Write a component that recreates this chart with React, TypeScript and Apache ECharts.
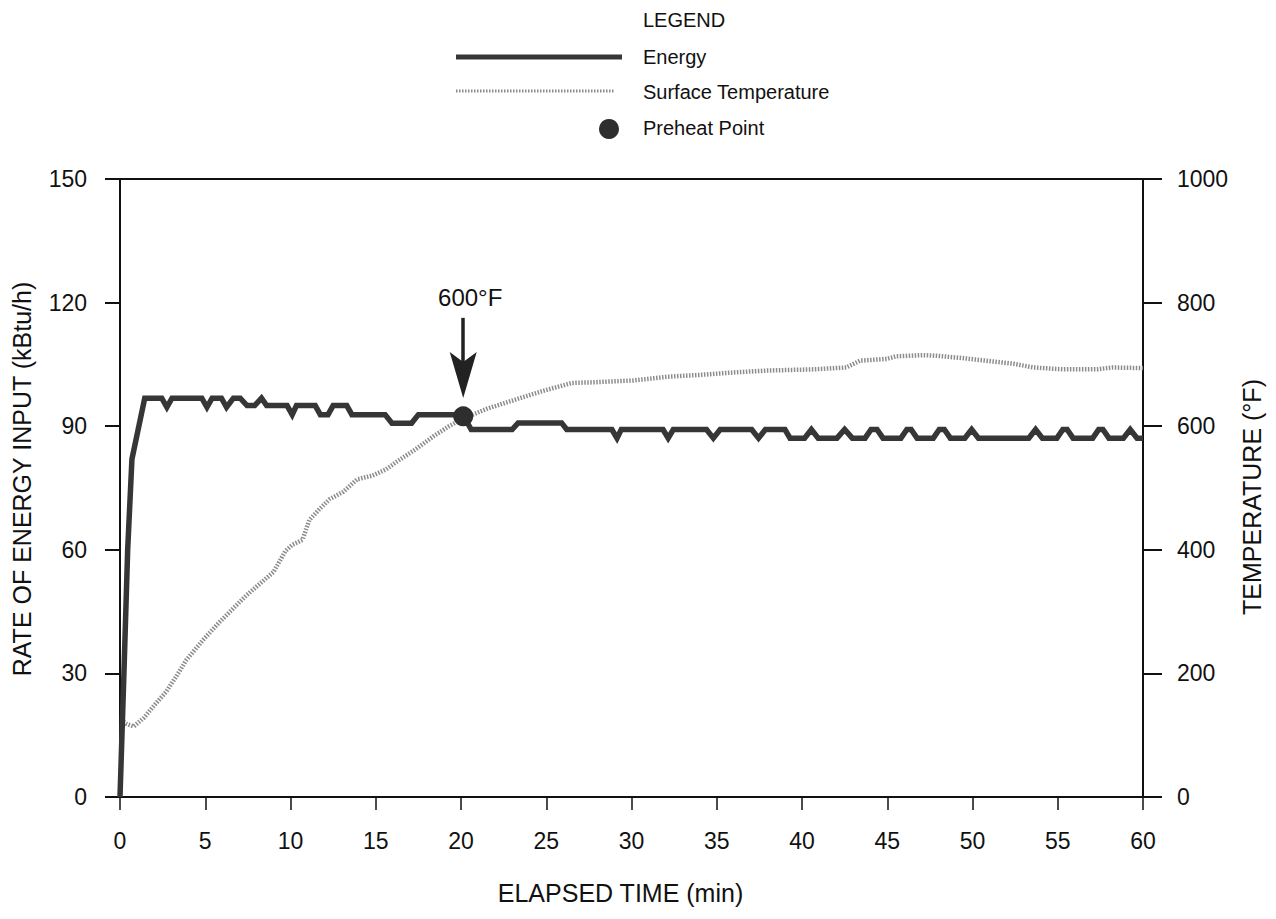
import React, { useEffect, useRef } from "react";
import * as echarts from "echarts";

// Elapsed time (min) and rate of energy input (kBtu/h)
const energyTime = [
  0, 0.23, 0.45, 0.7, 1.45,
  2.45, 2.75, 3.05,
  4.8, 5.1, 5.4,
  5.95, 6.25, 6.65,
  7.05, 7.45, 7.9, 8.3, 8.6,
  9.8, 10.1, 10.35,
  11.45, 11.75, 12.2, 12.5,
  13.3, 13.6,
  15.55, 15.95,
  17.1, 17.5,
  20.1, 20.6,
  23.0, 23.35,
  25.9, 26.2,
  28.85, 29.15, 29.4,
  31.85, 32.15, 32.45,
  34.4, 34.8, 35.2,
  37.05, 37.45, 37.85,
  39.0, 39.3,
  40.15, 40.55, 40.95,
  42.05, 42.5, 42.95,
  43.7, 44.05, 44.4, 44.75,
  45.8, 46.15, 46.4, 46.75,
  47.7, 48.05, 48.35, 48.7,
  49.55, 49.95, 50.35,
  53.3, 53.7, 54.1,
  54.95, 55.3, 55.55, 55.9,
  57.05, 57.4, 57.65, 58.0,
  58.85, 59.25, 59.65, 60,
];
const energyRate = [
  0, 30, 60, 82, 96.8,
  96.8, 94.6, 96.8,
  96.8, 94.6, 96.8,
  96.8, 94.6, 96.8,
  96.8, 95.0, 95.0, 96.8, 95.0,
  95.0, 92.8, 95.0,
  95.0, 92.8, 92.8, 95.0,
  95.0, 92.8,
  92.8, 90.7,
  90.7, 92.8,
  92.8, 89.2,
  89.2, 90.8,
  90.8, 89.2,
  89.2, 87.1, 89.2,
  89.2, 87.1, 89.2,
  89.2, 87.1, 89.2,
  89.2, 87.1, 89.2,
  89.2, 87.1,
  87.1, 89.2, 87.1,
  87.1, 89.2, 87.1,
  87.1, 89.2, 89.2, 87.1,
  87.1, 89.2, 89.2, 87.1,
  87.1, 89.2, 89.2, 87.1,
  87.1, 89.2, 87.1,
  87.1, 89.2, 87.1,
  87.1, 89.2, 89.2, 87.1,
  87.1, 89.2, 89.2, 87.1,
  87.1, 89.2, 87.1, 87.1,
];

// Elapsed time (min) and surface temperature (°F)
const tempTime = [
  0.2, 0.4, 0.8, 1.4, 2.0, 2.7, 3.3, 3.9, 4.9, 5.8, 6.6, 7.4, 8.2, 9.0, 9.7,
  10.1, 10.7, 11.1, 11.7, 12.3, 13.1, 13.9, 14.8, 15.6, 16.2, 17.3, 18.4,
  19.3, 20.1, 21.5, 23.3, 24.8, 26.5, 27.7, 30.1, 32.1, 34.0, 36.0, 37.9,
  40.7, 42.6, 43.4, 45.0, 45.5, 47.1, 47.9, 49.5, 50.8, 52.4, 53.6, 55.3,
  57.3, 58.2, 60,
];
const tempF = [
  122, 118, 114, 128, 148, 170, 195, 222, 255, 282, 304, 326, 345, 364, 398,
  408, 416, 448, 466, 482, 494, 514, 520, 530, 542, 562, 584,
  600, 612, 628, 644, 657, 670, 671, 674, 680, 683, 687, 690,
  692, 695, 706, 709, 713, 715, 714, 710, 706, 701, 695, 692,
  692, 695, 694,
];

// Preheat point (min, kBtu/h) and its annotation arrow
const preheatTime = [20.13];
const preheatRate = [92.4];
const preheatLabel = "600°F";
const arrowFrom = [20.13, 116.3];
const arrowTo = [20.13, 102.4];

const xTicks = { min: 0, max: 60, interval: 5 };
const yLeftTicks = { min: 0, max: 150, interval: 30 };
const yRightTicks = { min: 0, max: 1000, interval: 200 };

const seriesNames = ["Energy", "Surface Temperature", "Preheat Point"];

const FONT = "'Liberation Sans', Arial, Helvetica, sans-serif";
const INK = "#111111";
const ENERGY_COLOR = "#363636";
const TEMP_COLOR = "#8c8c8c";
const ARROW_HEAD = "path://M13,0 L26,46 L13,36 L0,46 Z";

export default function App() {
  const ref = useRef<HTMLDivElement>(null);

  useEffect(() => {
    document.body.style.margin = "0";
    const chart = echarts.init(ref.current as HTMLDivElement, null, { renderer: "svg" });

    const option = {
      animation: false,
      backgroundColor: "#ffffff",
      textStyle: { fontFamily: FONT, color: INK },
      grid: {
        left: 120,
        right: 133,
        top: 179,
        bottom: 122,
        show: true,
        borderColor: INK,
        borderWidth: 2,
        backgroundColor: "transparent",
      },
      xAxis: {
        type: "value",
        ...xTicks,
        position: "bottom",
        offset: 5,
        axisLine: { show: false },
        axisTick: { show: true, length: 13, lineStyle: { color: INK, width: 1.5 } },
        axisLabel: { fontSize: 23, color: INK, margin: 27, fontFamily: FONT },
        splitLine: { show: false },
        name: "ELAPSED TIME (min)",
        nameLocation: "middle",
        nameGap: 78,
        nameTextStyle: { fontSize: 25, color: INK, fontFamily: FONT, padding: [0, 22, 0, 0] },
      },
      yAxis: [
        {
          type: "value",
          ...yLeftTicks,
          position: "left",
          axisLine: { show: true, lineStyle: { color: INK, width: 2 } },
          axisTick: { show: true, length: 15, lineStyle: { color: INK, width: 2 } },
          axisLabel: { fontSize: 23, color: INK, margin: 33, fontFamily: FONT },
          splitLine: { show: false },
          name: "RATE OF ENERGY INPUT (kBtu/h)",
          nameLocation: "middle",
          nameGap: 86,
          nameTextStyle: { fontSize: 25, color: INK, fontFamily: FONT, padding: [0, 0, 0, 18] },
        },
        {
          type: "value",
          ...yRightTicks,
          position: "right",
          axisLine: { show: true, lineStyle: { color: INK, width: 2 } },
          axisTick: { show: true, length: 19, lineStyle: { color: INK, width: 2 } },
          axisLabel: {
            fontSize: 23,
            color: INK,
            margin: 34,
            fontFamily: FONT,
            formatter: (v: number) => String(v),
          },
          splitLine: { show: false },
          name: "TEMPERATURE (°F)",
          nameLocation: "middle",
          nameGap: 90,
          nameTextStyle: { fontSize: 25, color: INK, fontFamily: FONT, padding: [0, 18, 0, 0] },
        },
      ],
      series: [
        {
          type: "line",
          name: seriesNames[1],
          yAxisIndex: 1,
          data: tempTime.map((t, i) => [t, tempF[i]]),
          symbol: "none",
          lineStyle: { color: TEMP_COLOR, width: 4.5, type: [1.5, 1.5] },
          z: 2,
        },
        {
          type: "line",
          name: seriesNames[0],
          yAxisIndex: 0,
          data: energyTime.map((t, i) => [t, energyRate[i]]),
          symbol: "none",
          lineStyle: { color: ENERGY_COLOR, width: 5.5, join: "miter" },
          z: 3,
        },
        {
          type: "scatter",
          name: seriesNames[2],
          yAxisIndex: 0,
          data: preheatTime.map((t, i) => [t, preheatRate[i]]),
          symbol: "circle",
          symbolSize: 20,
          itemStyle: { color: "#2e2e2e", opacity: 1 },
          z: 5,
          markLine: {
            silent: true,
            symbol: ["none", ARROW_HEAD],
            symbolSize: [27, 46],
            lineStyle: { color: "#222222", width: 3.5, type: "solid", opacity: 1 },
            label: {
              show: true,
              position: "start",
              formatter: preheatLabel,
              fontSize: 24,
              color: INK,
              fontFamily: FONT,
              distance: 8,
              padding: [0, 0, 0, 14],
            },
            data: [[{ coord: arrowFrom }, { coord: arrowTo }]],
          },
        },
      ],
      graphic: [
        {
          type: "text",
          x: 643,
          y: 20,
          style: { text: "LEGEND", font: `20px ${FONT}`, fill: INK, verticalAlign: "middle", textVerticalAlign: "middle" },
        },
        {
          type: "line",
          shape: { x1: 456, y1: 57, x2: 622, y2: 57 },
          style: { stroke: ENERGY_COLOR, lineWidth: 5 },
        },
        {
          type: "text",
          x: 643,
          y: 57,
          style: { text: seriesNames[0], font: `20px ${FONT}`, fill: INK, verticalAlign: "middle", textVerticalAlign: "middle" },
        },
        {
          type: "line",
          shape: { x1: 456, y1: 91, x2: 615, y2: 91 },
          style: { stroke: TEMP_COLOR, lineWidth: 3, lineDash: [1.5, 1.5] },
        },
        {
          type: "text",
          x: 643,
          y: 92,
          style: { text: seriesNames[1], font: `20px ${FONT}`, fill: INK, verticalAlign: "middle", textVerticalAlign: "middle" },
        },
        {
          type: "circle",
          shape: { cx: 609, cy: 129, r: 10 },
          style: { fill: "#2e2e2e" },
        },
        {
          type: "text",
          x: 643,
          y: 128,
          style: { text: seriesNames[2], font: `20px ${FONT}`, fill: INK, verticalAlign: "middle", textVerticalAlign: "middle" },
        },
      ],
    };

    chart.setOption(option as any);
    return () => chart.dispose();
  }, []);

  return <div ref={ref} style={{ width: 1276, height: 919 }} />;
}
